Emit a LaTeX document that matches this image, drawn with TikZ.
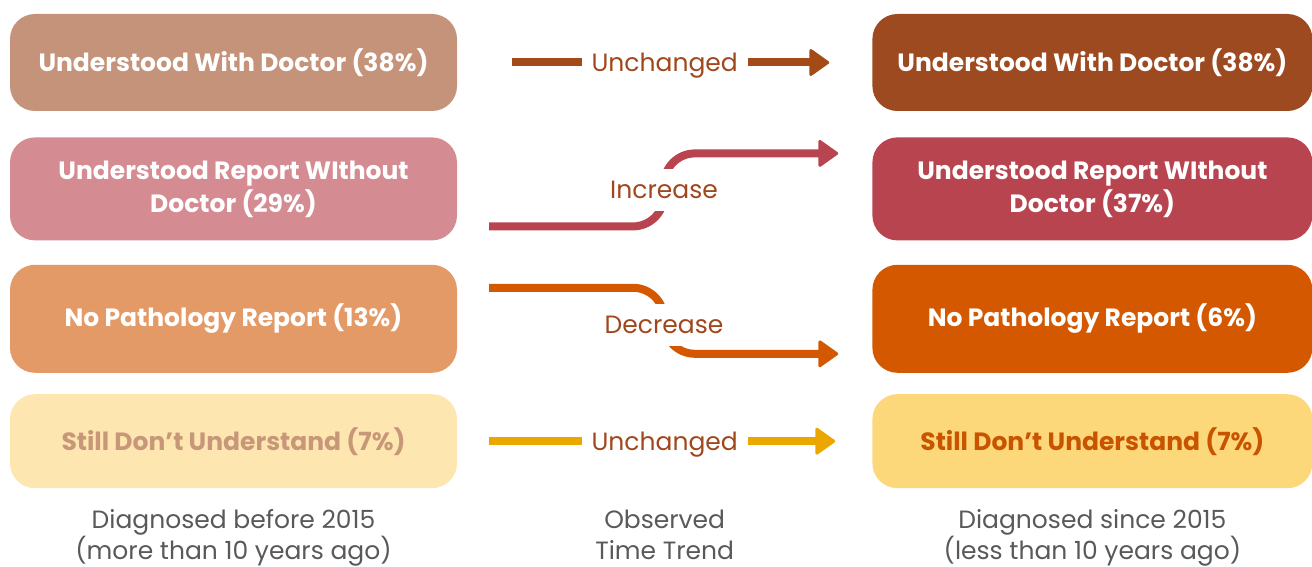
\documentclass[tikz,border=0pt]{standalone}
\usepackage{fontspec}
\setmainfont{Poppins}
\usepackage{xcolor}
\usepackage{tikz}
\usetikzlibrary{positioning}
\usetikzlibrary{arrows.meta}
\definecolor{oldDoctor}{HTML}{C4937A}
\definecolor{newDoctor}{HTML}{9E4A21}
\definecolor{oldReport}{HTML}{D48C92}
\definecolor{newReport}{HTML}{B8444F}
\definecolor{oldNone}{HTML}{E49A67}
\definecolor{newNone}{HTML}{D45800}
\definecolor{oldStill}{HTML}{FDE6B0}
\definecolor{newStill}{HTML}{FDD87B}
\definecolor{oldStillText}{HTML}{C8977A}
\definecolor{newStillText}{HTML}{C85300}
\definecolor{trendDoctor}{HTML}{A34A17}
\definecolor{trendStill}{HTML}{EBA700}
\definecolor{trendText}{HTML}{A0471E}
\definecolor{captionGray}{HTML}{58595B}
\tikzset{%
  every group/.style={
    rounded corners=25pt,
    align=center,
    text=white,
    font=\bfseries\fontsize{25}{33}\selectfont,
    inner sep=0pt,
  },
  old group/.style={every group, minimum width=447pt},
  new group/.style={every group, minimum width=440pt},
  trend label/.style={
    fill=white,
    text=trendText,
    inner xsep=10pt,
    inner ysep=0pt,
    text depth=0pt,
    minimum height=42pt,
    font=\fontsize{25}{28}\selectfont,
  },
  caption/.style={
    align=center,
    text=captionGray,
    text depth=7pt,
    font=\fontsize{25}{31}\selectfont,
  },
}

\begin{document}
\begin{tikzpicture}[x=1pt,y=1pt]
      \tikzstyle{trend} = [draw, line width=8pt, -{Triangle[length=21pt,width=29pt,round,line width=3pt]}]
      \useasboundingbox (0,0) rectangle (1312,-567);

      % Before 2015
      \node[old group, fill=oldDoctor, minimum height=97pt] (OldDoctor) at (233.5,-62.5) {Understood With Doctor (38\%)};
      \node[old group, fill=oldReport, minimum height=103pt, below = 26pt of OldDoctor] (OldReport) {Understood Report WIthout\\Doctor (29\%)};
      \node[old group, fill=oldNone, minimum height=108pt, below = 24pt of OldReport] (OldNone) {No Pathology Report (13\%)};
      \node[old group, fill=oldStill, text=oldStillText, minimum height=94pt, below = 21pt of OldNone] (OldStill) {Still Don’t Understand (7\%)};

      % Since 2015
      \node[new group, fill=newDoctor, minimum height=97pt, right = 415pt of OldDoctor] (NewDoctor) {Understood With Doctor (38\%)};
      \node[new group, fill=newReport, minimum height=103pt, right = 415pt of OldReport] (NewReport) {Understood Report WIthout\\Doctor (37\%)};
      \node[new group, fill=newNone, minimum height=108pt, right = 415pt of OldNone] (NewNone) {No Pathology Report (6\%)};
      \node[new group, fill=newStill, text=newStillText, minimum height=94pt, right = 415pt of OldStill] (NewStill) {Still Don’t Understand (7\%)};

      % Trends
      \coordinate (IncreaseMid) at (664,-190);
      \coordinate (IncreaseFrom) at ([xshift=32pt,yshift=-37.5pt]OldReport.east);
      \coordinate (IncreaseTo) at ([xshift=-34pt,yshift=35.5pt]NewReport.west);
      \coordinate (DecreaseMid) at (664,-325);
      \coordinate (DecreaseFrom) at ([xshift=32pt,yshift=31pt]OldNone.east);
      \coordinate (DecreaseTo) at ([xshift=-34pt,yshift=-35pt]NewNone.west);

      \path[trend, trendDoctor, shorten <=55pt, shorten >=43pt] (OldDoctor) -- node[trend label] (SameDoctor) {Unchanged} (NewDoctor);
      \path[trend, newReport, rounded corners=31pt] (IncreaseFrom) -| (IncreaseMid |- IncreaseTo) -- (IncreaseTo);
      \node[trend label] (Increase) at (IncreaseMid) {Increase};
      \path[trend, newNone, rounded corners=31pt] (DecreaseFrom) -| (DecreaseMid |- DecreaseTo) -- (DecreaseTo);
      \node[trend label] (Decrease) at (DecreaseMid) {Decrease};
      \path[trend, trendStill, shorten <=32pt, shorten >=37pt] (OldStill) -- node[trend label] (SameStill) {Unchanged} (NewStill);

      % Captions
      \node[caption] (OldCaption) at ([yshift=-50pt]OldStill.south) {Diagnosed before 2015\\(more than 10 years ago)};
      \node[caption] (TrendCaption) at (OldCaption -| SameDoctor) {Observed\\Time Trend};
      \node[caption] (NewCaption) at (OldCaption -| NewStill) {Diagnosed since 2015\\(less than 10 years ago)};
    \end{tikzpicture}
\end{document}
